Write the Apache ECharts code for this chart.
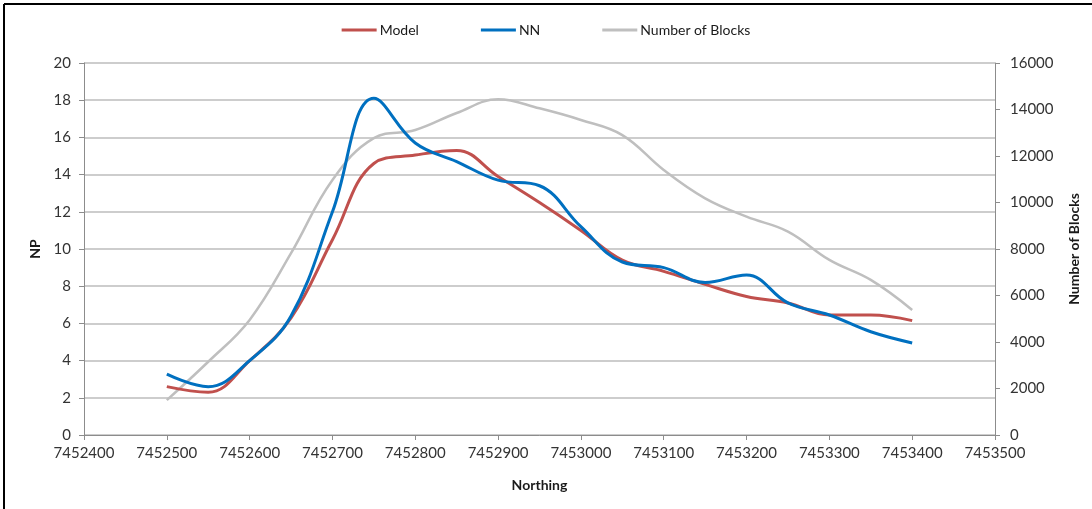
<!DOCTYPE html>
<html>
<head>
<meta charset="utf-8">
<script src="https://cdn.jsdelivr.net/npm/echarts@6/dist/echarts.min.js"></script>
<style>
html,body{margin:0;padding:0;background:#fff;}
#chart{width:1092px;height:509px;}
</style>
</head>
<body>
<div id="chart"></div>
<script>
var northing = [7452500,7452550,7452600,7452650,7452700,7452750,7452800,7452850,7452900,7452950,7453000,7453050,7453100,7453150,7453200,7453250,7453300,7453350,7453400];
var model = [2.6,2.3,4.0,6.3,10.5,14.6,15.05,15.3,13.9,12.5,11.0,9.4,8.8,8.1,7.45,7.1,6.45,6.45,6.15];
var nn = [3.27,2.6,4.0,6.4,12.0,18.1,15.7,14.7,13.7,13.4,11.2,9.3,9.0,8.2,8.6,7.1,6.45,5.55,4.95];
var blocks = [1500,3150,4950,7820,10970,12770,13120,13850,14440,14050,13550,12900,11400,10180,9390,8750,7530,6670,5380];
var xTicks = {min: 7452400, max: 7453500, interval: 100};
var npTicks = {min: 0, max: 20, interval: 2};
var blockTicks = {min: 0, max: 16000, interval: 2000};

function pairs(xs, ys){ return xs.map(function(x,i){ return [x, ys[i]]; }); }
function plain(v){ return String(v); }

var FONT = 'Lato';
var SMOOTH = 0.4;
var chart = echarts.init(document.getElementById('chart'), null, {renderer:'canvas'});
chart.setOption({
  animation: false,
  backgroundColor: '#ffffff',
  textStyle: {fontFamily: FONT},
  graphic: [
    {type:'line', shape:{x1:4, y1:4, x2:1092, y2:4}, style:{stroke:'#000', lineWidth:2}},
    {type:'line', shape:{x1:4, y1:4, x2:4, y2:509}, style:{stroke:'#000', lineWidth:2}}
  ],
  legend: {
    top: 18,
    left: 'center',
    itemGap: 62,
    itemWidth: 35,
    itemHeight: 3,
    icon: 'rect',
    textStyle: {fontFamily: FONT, fontSize: 14, color: '#1a1a1a', padding:[0,0,0,-2]},
    data: ['Model','NN','Number of Blocks']
  },
  grid: {left: 84, right: 97, top: 63, bottom: 74, containLabel: false},
  xAxis: {
    type: 'value',
    min: xTicks.min, max: xTicks.max, interval: xTicks.interval,
    name: 'Northing',
    nameLocation: 'middle',
    nameGap: 43,
    nameTextStyle: {fontFamily: FONT, fontSize: 14, fontWeight: 'bold', color: '#1a1a1a'},
    axisLine: {show: true, lineStyle: {color: '#8c8c8c', width: 1}},
    axisTick: {show: true, length: 5, lineStyle: {color: '#8c8c8c'}},
    axisLabel: {fontFamily: FONT, fontSize: 15, color: '#333', margin: 11, formatter: plain},
    splitLine: {show: false}
  },
  yAxis: [
    {
      type: 'value',
      min: npTicks.min, max: npTicks.max, interval: npTicks.interval,
      name: 'NP',
      nameLocation: 'middle',
      nameGap: 42,
      nameRotate: 90,
      nameTextStyle: {fontFamily: FONT, fontSize: 14, fontWeight: 'bold', color: '#1a1a1a'},
      axisLine: {show: true, lineStyle: {color: '#8c8c8c', width: 1}},
      axisTick: {show: true, length: 5, lineStyle: {color: '#8c8c8c'}},
      axisLabel: {fontFamily: FONT, fontSize: 15, color: '#333', margin: 13, formatter: plain},
      splitLine: {show: true, lineStyle: {color: '#bdbdbd', width: 1.5}}
    },
    {
      type: 'value',
      position: 'right',
      min: blockTicks.min, max: blockTicks.max, interval: blockTicks.interval,
      name: 'Number of Blocks',
      nameLocation: 'middle',
      nameGap: 72,
      nameRotate: 90,
      nameTextStyle: {fontFamily: FONT, fontSize: 14, fontWeight: 'bold', color: '#1a1a1a'},
      axisLine: {show: true, lineStyle: {color: '#8c8c8c', width: 1}},
      axisTick: {show: true, length: 5, lineStyle: {color: '#8c8c8c'}},
      axisLabel: {fontFamily: FONT, fontSize: 15, color: '#333', margin: 15, formatter: plain},
      splitLine: {show: false}
    }
  ],
  series: [
    {
      name: 'Model', type: 'line', yAxisIndex: 0, smooth: SMOOTH, showSymbol: false, symbol: 'none',
      data: pairs(northing, model),
      lineStyle: {color: '#c0504d', width: 3}, itemStyle: {color: '#c0504d'}, z: 3
    },
    {
      name: 'NN', type: 'line', yAxisIndex: 0, smooth: SMOOTH, showSymbol: false, symbol: 'none',
      data: pairs(northing, nn),
      lineStyle: {color: '#0070c0', width: 3}, itemStyle: {color: '#0070c0'}, z: 4
    },
    {
      name: 'Number of Blocks', type: 'line', yAxisIndex: 1, smooth: SMOOTH, showSymbol: false, symbol: 'none',
      data: pairs(northing, blocks),
      lineStyle: {color: '#bfbfbf', width: 2.5}, itemStyle: {color: '#bfbfbf'}, z: 2
    }
  ]
});
</script>
</body>
</html>
